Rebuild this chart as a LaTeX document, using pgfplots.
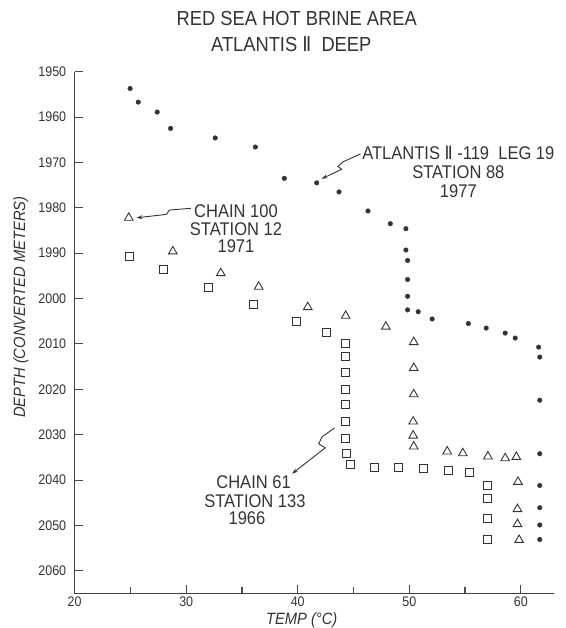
\documentclass[border=0pt]{standalone}
\usepackage{fontspec}
\setmainfont{Liberation Sans}[FakeStretch=0.9]
\newfontfamily\dejavu{DejaVu Sans}[FakeStretch=0.9]
\usepackage{pgfplots}
\usepackage{pgfplotstable}
\pgfplotsset{compat=1.18}
\usetikzlibrary{arrows.meta}
\definecolor{ink}{gray}{0.2}

\pgfplotstableread{
T D
24.97 1953.7
25.7 1956.7
27.4 1958.9
28.6 1962.5
32.6 1964.6
36.2 1966.6
38.8 1973.5
41.7 1974.5
43.7 1976.5
46.3 1980.7
48.3 1983.5
49.7 1984.6
49.7 1989.3
49.85 1991.6
49.85 1995.8
49.85 1999.5
49.85 2002.5
50.8 2002.9
52.05 2004.5
55.3 2005.5
56.9 2006.5
58.6 2007.6
59.5 2008.7
61.6 2010.7
61.7 2012.9
61.7 2022.4
61.7 2034.2
61.7 2041.2
61.7 2046.1
61.7 2049.9
61.7 2053.1
}\atlantis

\pgfplotstableread{
T D
24.85 1982.2
28.8 1989.6
33.1 1994.4
36.5 1997.4
40.9 2001.9
44.3 2003.8
47.9 2006.2
50.4 2009.6
50.4 2015.3
50.4 2021.1
50.35 2027.1
50.35 2030.2
50.4 2032.6
53.4 2033.7
54.8 2034.1
57.05 2034.8
58.6 2035.2
59.6 2034.9
59.75 2040.4
59.7 2046.4
59.7 2049.7
59.85 2053.2
}\chainhundred

\pgfplotstableread{
T D
24.9 1990.7
28.0 1993.6
32.0 1997.5
36.0 2001.4
39.9 2005.0
42.6 2007.4
44.3 2009.8
44.3 2012.8
44.25 2016.2
44.25 2020.1
44.3 2023.3
44.25 2027.1
44.25 2030.9
44.4 2034.1
44.7 2036.6
46.9 2037.3
49.0 2037.3
51.3 2037.5
53.5 2037.8
55.4 2038.4
57.0 2041.1
57.0 2044.0
57.0 2048.5
57.0 2053.1
}\chainsixtyone

\begin{document}
\begin{tikzpicture}
\begin{axis}[
  at={(75bp,32bp)}, anchor=south west, scale only axis,
  width=481.6bp, height=524bp,
  xmin=20, xmax=63, ymin=1950, ymax=2065, y dir=reverse,
  axis line style={draw=none},
  xtick={20,30,40,50,60}, minor xtick={25,35,45,55},
  ytick={1950,1960,...,2060},
  xtick pos=left, ytick pos=left,
  tick align=inside, major tick length=9bp, minor tick length=7bp,
  every tick/.style={draw=none},
  ticklabel style={font=\fontsize{14}{14}\selectfont, text=ink},
  /pgf/number format/assume math mode=true,
  /pgf/number format/1000 sep={},
  yticklabel style={xshift=-5bp},
  clip=false,
]
\addplot[only marks, mark=*, mark size=2.3bp, draw=ink, fill=ink] table {\atlantis};
\addplot[only marks, mark=triangle, mark size=5bp, draw=ink, line width=0.9bp, mark options={solid}] table {\chainhundred};
\addplot[only marks, mark=square, mark size=4bp, draw=ink, line width=0.9bp, mark options={solid}] table {\chainsixtyone};

% annotation arrows
\draw[ink, line width=0.9bp, -{Stealth[length=6bp,width=4bp]}]
  (axis cs:45.63,1968.1) -- (axis cs:44.04,1969.9) -- (axis cs:43.6,1970.9) -- (axis cs:43.95,1971.5) -- (axis cs:42.14,1973.6);
\draw[ink, line width=0.9bp, -{Stealth[length=6bp,width=4bp]}]
  (axis cs:30.42,1980.1) -- (axis cs:28.48,1980.5) -- (axis cs:28.26,1981.4) -- (axis cs:28.04,1981.5) -- (axis cs:25.54,1982.2);
\draw[ink, line width=0.9bp, -{Stealth[length=6bp,width=4bp]}]
  (axis cs:43.30,2028.5) -- (axis cs:42.17,2030.5) -- (axis cs:41.88,2032.0) -- (axis cs:42.47,2032.9) -- (axis cs:39.49,2038.6);

% annotation texts
\begin{scope}[every node/.style={font=\fontsize{18.5}{18.5}\selectfont, text=ink, inner sep=0pt}]
\node at (axis cs:54.4,1968.0) {ATLANTIS {\dejavu Ⅱ} -119\ \ LEG 19};
\node at (axis cs:54.4,1972.2) {STATION 88};
\node at (axis cs:54.4,1976.4) {1977};
\node at (axis cs:34.46,1980.7) {CHAIN 100};
\node at (axis cs:34.46,1984.6) {STATION 12};
\node at (axis cs:34.46,1988.4) {1971};
\node at (axis cs:36.04,2040.5) {CHAIN 61};
\node at (axis cs:36.16,2044.7) {STATION 133};
\node at (axis cs:35.45,2048.5) {1966};
\end{scope}
\end{axis}
% axis frame (left and bottom lines) and tick marks, in page coordinates
\draw[black!75, line width=1.4bp] (75bp,556bp) -- (75bp,32bp) -- (556.6bp,32bp);
\foreach \yy in {556,510.4,464.9,419.3,373.7,328.2,282.6,237.0,191.5,145.9,100.3,54.8}{
  \draw[black!70, line width=1.1bp] (75bp,\yy bp) -- (83bp,\yy bp);
}
\foreach \xx in {187,299,411,523}{
  \draw[black!70, line width=1.1bp] (\xx bp,32bp) -- (\xx bp,41bp);
}
\foreach \xx in {131,243,355,467}{
  \draw[black!70, line width=1.1bp] (\xx bp,32bp) -- (\xx bp,39bp);
}
% titles and axis labels
\node[font=\fontsize{20.5}{20.5}\selectfont, text=ink, inner sep=0pt] at (298bp,609bp) {RED SEA HOT BRINE AREA};
\node[font=\fontsize{20.5}{20.5}\selectfont, text=ink, inner sep=0pt] at (292.5bp,584bp) {ATLANTIS {\dejavu Ⅱ}\ \ DEEP};
\node[font=\fontsize{16.5}{16.5}\selectfont\itshape, text=ink, inner sep=0pt, rotate=90] at (21bp,319.5bp) {DEPTH (CONVERTED METERS)};
\node[font=\fontsize{16.5}{16.5}\selectfont\itshape, text=ink, inner sep=0pt] at (303bp,5bp) {TEMP (°C)};
\path (0,0) rectangle (568bp,628bp);
\end{tikzpicture}
\end{document}
